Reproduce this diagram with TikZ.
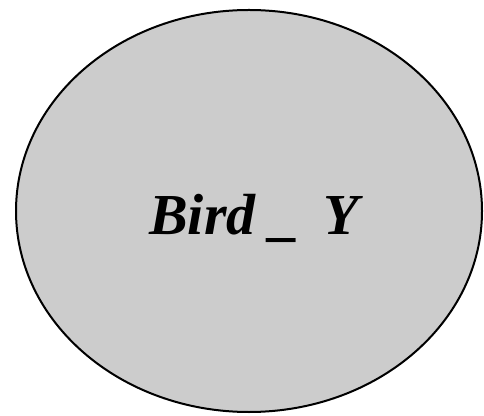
\documentclass[tikz,border=0pt]{standalone}
\usepackage{fontspec}
\setmainfont{Liberation Serif}
\usepackage{xcolor}
\usepackage{tikz}
\usetikzlibrary{shapes,positioning,calc}
\definecolor{birdgray}{HTML}{CCCCCC}

\begin{document}
\begin{tikzpicture}[
    x=1pt, y=1pt,
    blob/.style={ellipse, draw=black, fill=birdgray, line width=2pt,
                 minimum width=466pt, minimum height=402pt, inner sep=0pt},
    birdtext/.style={font=\fontsize{58}{60}\selectfont\bfseries\itshape, inner sep=0pt},
]
\useasboundingbox (0,0) rectangle (484,415);
\node[blob] (bird) at (249,204) {};
\node[birdtext, anchor=base] (birdname) at ($(bird.center)+(5,-24)$) {Bird \_\, Y};
\end{tikzpicture}
\end{document}
